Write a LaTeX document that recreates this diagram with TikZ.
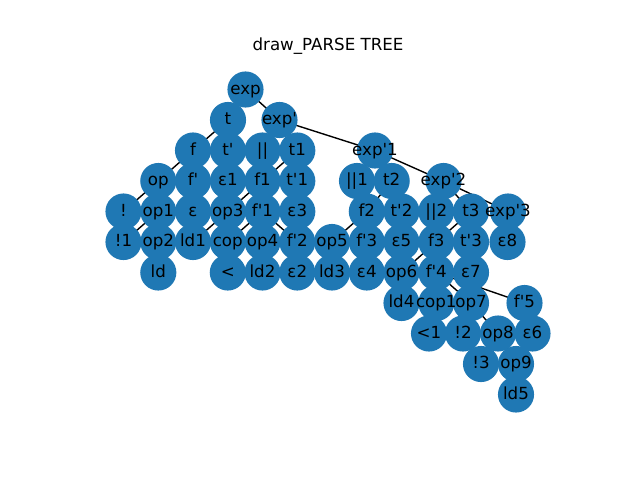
\documentclass[tikz,border=0pt]{standalone}
\usepackage{fontspec}
\setmainfont{DejaVu Sans}[Ligatures=TeXOff]
\definecolor{nxblue}{HTML}{1F78B4}
\pgfdeclarelayer{bg}
\pgfdeclarelayer{fg}
\pgfsetlayers{bg,main,fg}
\begin{document}
\begin{tikzpicture}[x=0.72pt,y=-0.72pt,
  vert/.style={circle,fill=nxblue,draw=none,minimum size=26pt,inner sep=0pt},
  lab/.style={font=\fontsize{12}{14}\selectfont,inner sep=0pt,text=black,text height=9.1pt,text depth=2.5pt},
  edge/.style={draw=black,line width=1pt}]
\useasboundingbox (0,0) rectangle (640,480);
\node[font=\fontsize{12}{14}\selectfont,anchor=base,inner sep=0pt] (title) at (328,50) {draw\_PARSE TREE};
\foreach \n/\x/\y/\l in {
exp/245.5/89.5/exp, t/228/120/t, expp/279.5/120/exp',
f/193/150.5/f, tp/228/150.5/t', or/262.5/150.5/||, t1/297.3/150.5/t1, expp1/375/150.5/exp'1,
op/158.3/181/op, fp/193/181/f', eps1/228/181/ε1, f1/262.5/181/f1, tp1/297.3/181/t'1, or1/357/181/||1, t2/391.7/181/t2, expp2/443.5/181/exp'2,
not/123.5/211.5/!, op1/158.3/211.5/op1, eps/193/211.5/ε, op3/227.8/211.5/op3, fp1/262.5/211.5/f'1, eps3/297.3/211.5/ε3, f2/366.8/211.5/f2, tp2/401.5/211.5/t'2, or2/436.3/211.5/||2, t3/471/211.5/t3, expp3/508/211.5/exp'3,
not1/123.5/242/!1, op2/158.3/242/op2, ld1/193/242/ld1, cop/227.8/242/cop, op4/262.5/242/op4, fp2/297.3/242/f'2, op5/332/242/op5, fp3/366.8/242/f'3, eps5/401.5/242/ε5, f3/436.3/242/f3, tp3/471/242/t'3, eps8/507.5/242/ε8,
ld/158.3/272.5/ld, lt/227.8/272.5/<, ld2/262.5/272.5/ld2, eps2/297.3/272.5/ε2, ld3/332/272.5/ld3, eps4/366.8/272.5/ε4, op6/401.5/272.5/op6, fp4/436.3/272.5/f'4, eps7/471/272.5/ε7,
ld4/401.5/303/ld4, cop1/436.3/303/cop1, op7/471/303/op7, fp5/524.5/303/f'5,
lt1/429/333.5/<1, not2/463/333.5/!2, op8/498/333.5/op8, eps6/532.5/333.5/ε6,
not3/481/364/!3, op9/516/364/op9,
ld5/516/394.5/ld5}{
  \node[vert] (\n) at (\x,\y) {};
  \begin{pgfonlayer}{fg}
    \node[lab] at (\n) {\l};
  \end{pgfonlayer}
}
\begin{pgfonlayer}{bg}
\foreach \a/\b in {exp/t, exp/expp, t/f, t/tp, f/op, f/fp, op/not, op/op1, op1/not1, op1/op2, op2/ld, fp/eps, tp/eps1,
expp/or, expp/t1, expp/expp1, t1/f1, t1/tp1, f1/op3, f1/fp1, op3/ld1, fp1/cop, fp1/op4, fp1/fp2, cop/lt, op4/ld2, fp2/eps2, tp1/eps3,
expp1/or1, expp1/t2, expp1/expp2, t2/f2, t2/tp2, f2/op5, f2/fp3, op5/ld3, fp3/eps4, tp2/eps5,
expp2/or2, expp2/t3, expp2/expp3, t3/f3, t3/tp3, f3/op6, f3/fp4, op6/ld4, fp4/cop1, fp4/op7, fp4/fp5, cop1/lt1,
op7/not2, op7/op8, op8/not3, op8/op9, op9/ld5, fp5/eps6, tp3/eps7, expp3/eps8}{
  \draw[edge] (\a.center) -- (\b.center);
}
\end{pgfonlayer}
\end{tikzpicture}
\end{document}
